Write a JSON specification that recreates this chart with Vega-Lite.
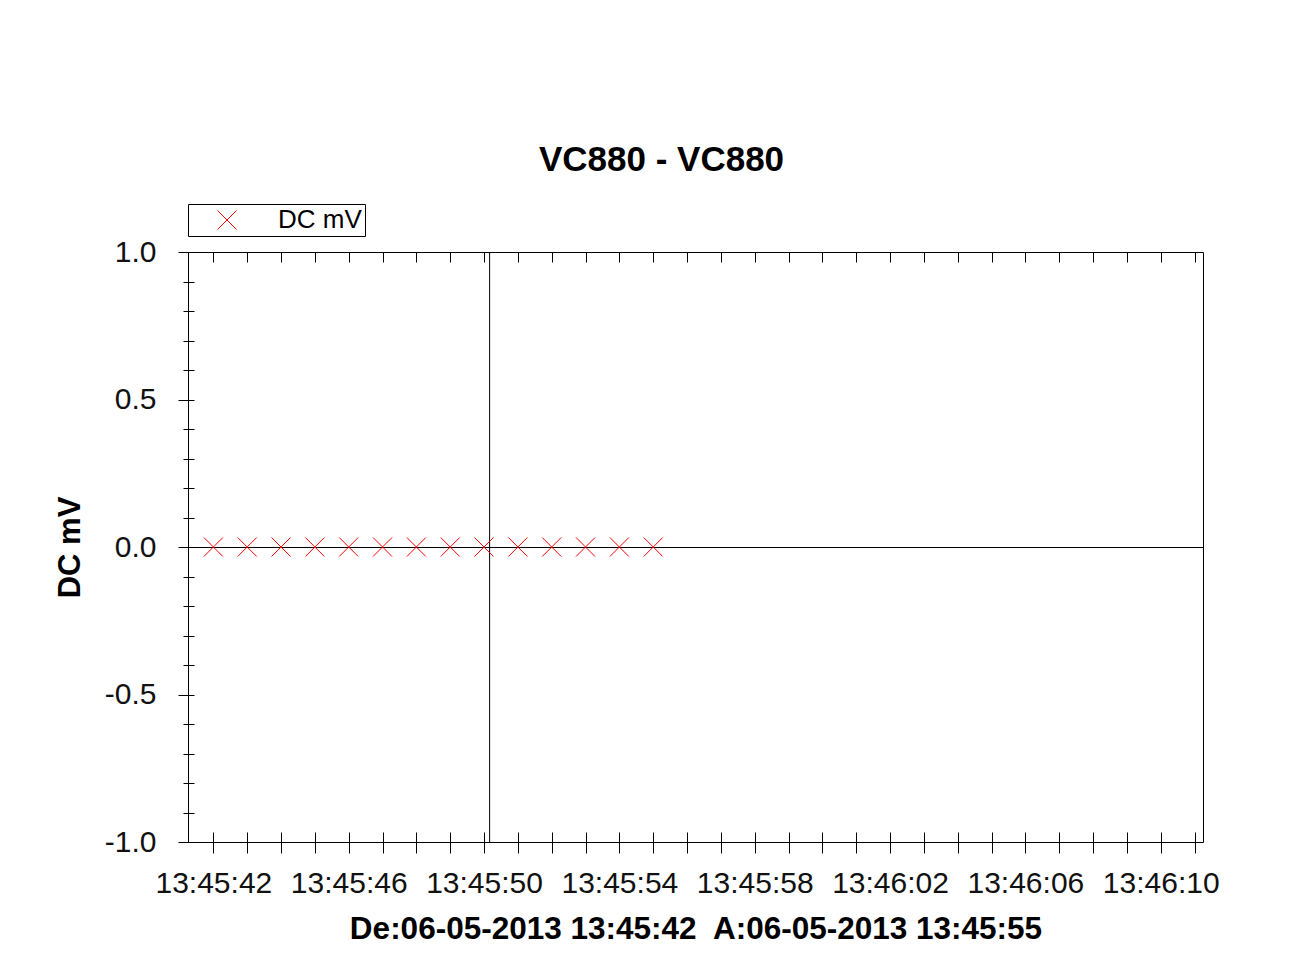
{
  "$schema": "https://vega.github.io/schema/vega-lite/v6.json",
  "width": 1015,
  "height": 590,
  "autosize": {"type": "none"},
  "padding": {"left": 188, "top": 252, "right": 89, "bottom": 116},
  "background": "white",
  "title": {
    "text": "VC880 - VC880",
    "font": "Liberation Sans",
    "fontSize": 35,
    "fontWeight": "bold",
    "color": "black",
    "anchor": "middle",
    "frame": "group",
    "dx": -34,
    "offset": -2,
    "baseline": "alphabetic"
  },
  "config": {
    "view": {"stroke": "black", "strokeWidth": 1},
    "font": "Liberation Sans",
    "axis": {
      "grid": false,
      "tickColor": "black",
      "tickWidth": 1,
      "domainColor": "black",
      "labelColor": "#111",
      "titleColor": "black",
      "labelFont": "Liberation Sans",
      "titleFont": "Liberation Sans"
    }
  },
  "datasets": {
    "readings": [
      {"time": "2013-05-06T13:45:42Z", "dc_mv": 0},
      {"time": "2013-05-06T13:45:43Z", "dc_mv": 0},
      {"time": "2013-05-06T13:45:44Z", "dc_mv": 0},
      {"time": "2013-05-06T13:45:45Z", "dc_mv": 0},
      {"time": "2013-05-06T13:45:46Z", "dc_mv": 0},
      {"time": "2013-05-06T13:45:47Z", "dc_mv": 0},
      {"time": "2013-05-06T13:45:48Z", "dc_mv": 0},
      {"time": "2013-05-06T13:45:49Z", "dc_mv": 0},
      {"time": "2013-05-06T13:45:50Z", "dc_mv": 0},
      {"time": "2013-05-06T13:45:51Z", "dc_mv": 0},
      {"time": "2013-05-06T13:45:52Z", "dc_mv": 0},
      {"time": "2013-05-06T13:45:53Z", "dc_mv": 0},
      {"time": "2013-05-06T13:45:54Z", "dc_mv": 0},
      {"time": "2013-05-06T13:45:55Z", "dc_mv": 0}
    ],
    "cursor": [{"time": "2013-05-06T13:45:50.150Z"}],
    "baseline": [{"value": 0}]
  },
  "resolve": {"axis": {"x": "independent", "y": "independent"}},
  "layer": [
    {
      "data": {"name": "baseline"},
      "mark": {"type": "rule", "color": "black", "strokeWidth": 1, "yOffset": 0.5},
      "encoding": {
        "y": {
          "field": "value",
          "type": "quantitative",
          "scale": {"domain": [-1, 1], "nice": false, "zero": false},
          "axis": {
            "orient": "left",
            "offset": -6,
            "tickSize": 11,
            "domain": false,
            "labels": false,
            "title": null,
            "values": [-1, -0.9, -0.8, -0.7, -0.6, -0.5, -0.4, -0.3, -0.2, -0.1, 0, 0.1, 0.2, 0.3, 0.4, 0.5, 0.6, 0.7, 0.8, 0.9, 1]
          }
        }
      }
    },
    {
      "data": {"name": "cursor"},
      "mark": {"type": "rule", "color": "black", "strokeWidth": 1, "xOffset": 0.5},
      "encoding": {
        "x": {
          "field": "time",
          "type": "temporal",
          "scale": {"type": "utc", "domain": [1367847941250, 1367847971250], "nice": false},
          "axis": {
            "orient": "top",
            "offset": -10,
            "tickSize": 10,
            "domain": false,
            "labels": false,
            "title": null,
            "values": [1367847942000, 1367847943000, 1367847944000, 1367847945000, 1367847946000, 1367847947000, 1367847948000, 1367847949000, 1367847950000, 1367847951000, 1367847952000, 1367847953000, 1367847954000, 1367847955000, 1367847956000, 1367847957000, 1367847958000, 1367847959000, 1367847960000, 1367847961000, 1367847962000, 1367847963000, 1367847964000, 1367847965000, 1367847966000, 1367847967000, 1367847968000, 1367847969000, 1367847970000, 1367847971000]
          }
        }
      }
    },
    {
      "data": {"name": "readings"},
      "mark": {
        "type": "point",
        "shape": "M-1,-1L1,1M-1,1L1,-1",
        "size": 361,
        "filled": false,
        "strokeWidth": 1,
        "opacity": 1
      },
      "encoding": {
        "x": {
          "field": "time",
          "type": "temporal",
          "scale": {"type": "utc", "domain": [1367847941250, 1367847971250], "nice": false},
          "axis": {
            "orient": "bottom",
            "offset": -10,
            "tickSize": 21,
            "domain": false,
            "values": [1367847942000, 1367847943000, 1367847944000, 1367847945000, 1367847946000, 1367847947000, 1367847948000, 1367847949000, 1367847950000, 1367847951000, 1367847952000, 1367847953000, 1367847954000, 1367847955000, 1367847956000, 1367847957000, 1367847958000, 1367847959000, 1367847960000, 1367847961000, 1367847962000, 1367847963000, 1367847964000, 1367847965000, 1367847966000, 1367847967000, 1367847968000, 1367847969000, 1367847970000, 1367847971000],
            "labelExpr": "utcseconds(datum.value) % 4 == 2 ? utcFormat(datum.value, '%H:%M:%S') : ''",
            "labelOverlap": false,
            "labelFlush": false,
            "labelBound": false,
            "labelFontSize": 30,
            "labelPadding": 15,
            "title": "De:06-05-2013 13:45:42\u00a0 A:06-05-2013 13:45:55",
            "titleFontSize": 31.5,
            "titleFontWeight": "bold",
            "titlePadding": 15
          }
        },
        "y": {
          "field": "dc_mv",
          "type": "quantitative",
          "scale": {"domain": [-1, 1], "nice": false, "zero": false},
          "axis": {
            "orient": "left",
            "values": [-1, -0.5, 0, 0.5, 1],
            "labelExpr": "replace(format(datum.value, '.1f'), '\u2212', '-')",
            "tickSize": 10,
            "domain": false,
            "labelFontSize": 30,
            "labelPadding": 22,
            "title": "DC mV",
            "titleFontSize": 31,
            "titleFontWeight": "bold",
            "titlePadding": 18
          }
        },
        "color": {
          "datum": "DC mV",
          "type": "nominal",
          "scale": {"range": ["#ff0000"]},
          "legend": {
            "orient": "none",
            "legendX": 0,
            "legendY": -48,
            "title": null,
            "strokeColor": "black",
            "fillColor": "white",
            "padding": 3,
            "symbolType": "M-1,-1L1,1M-1,1L1,-1",
            "symbolSize": 361,
            "symbolStrokeWidth": 1,
            "symbolFillColor": "transparent",
            "symbolOffset": 23,
            "labelOffset": 38,
            "labelFontSize": 26,
            "labelFont": "Liberation Sans",
            "labelColor": "black"
          }
        }
      }
    }
  ]
}
